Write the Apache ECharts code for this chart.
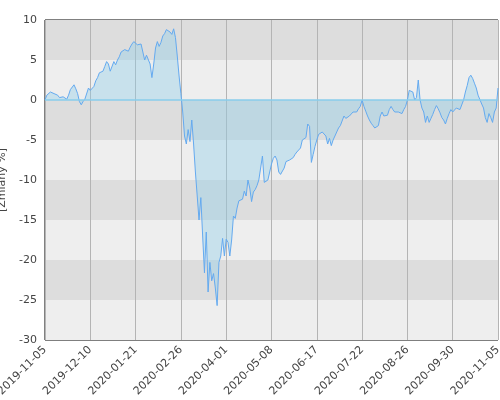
<!DOCTYPE html>
<html><head><meta charset="utf-8">
<script src="https://cdn.jsdelivr.net/npm/echarts@6/dist/echarts.min.js"></script>
<style>html,body{margin:0;padding:0;background:#fff}#c{width:500px;height:400px}</style>
</head><body><div id="c"></div>
<script>
const tickLabels = ['2019-11-05','2019-12-10','2020-01-21','2020-02-26','2020-04-01','2020-05-08','2020-06-17','2020-07-22','2020-08-26','2020-09-30','2020-11-05'];
const values = [
0,0.6,0.8,1.0,1.1,0.8,0.9,0.6,0.3,0.5,0.4,0.3,0.1,0.6,1.3,1.5,1.9,1.4,0.8,-0.2,-0.6,-0.2,0.1,0.3,1.5,
1.2,1.3,1.7,2.4,2.8,3.4,3.5,3.6,4.2,4.8,4.5,3.6,3.4,4.8,4.4,5.0,5.4,6.0,5.8,6.3,6.2,6.1,6.6,7.0,7.3,
7.2,6.9,7.1,7.0,6.8,5.0,5.6,5.7,4.5,2.8,4.5,6.5,7.3,6.7,7.2,8.0,8.3,8.8,8.8,8.5,8.2,8.9,7.8,5.5,3.0,
0.8,-1.5,-4.5,-5.5,-3.7,-5.2,-2.5,-5.5,-9,-12,-15,-12.2,-17,-21.6,-16.5,-24,-20.3,-22.6,-21.7,-23.5,-25.7,-20.3,-19.5,-17.3,-19.5,
-17.4,-17.8,-19.5,-17.5,-14.5,-14.8,-13.5,-12.6,-12.7,-12.4,-11.4,-12,-10,-11,-12.7,-11.5,-11.2,-10.7,-10,-8.5,-7,-10.3,-10.3,-10,-9,
-8,-7.3,-7,-7.5,-9,-9.3,-9.3,-8.5,-7.7,-7.6,-7.5,-7.3,-7.2,-6.8,-6.5,-6.3,-6,-5,-4.8,-4.7,-3,-3.3,-7.8,-6.8,-5.8,
-5,-4.3,-4.2,-4.0,-4.0,-4.5,-5.5,-4.8,-5.7,-5.0,-4.5,-4.0,-3.5,-3.2,-3.0,-2.0,-2.3,-2.1,-2.0,-1.8,-1.5,-1.6,-1.5,-1.1,-0.8,
0.0,-0.8,-1.4,-2.0,-2.5,-2.9,-3.2,-3.5,-3.4,-3.2,-2.0,-1.5,-2.0,-1.8,-1.9,-1.2,-0.8,-1.2,-1.5,-1.4,-1.5,-1.6,-1.7,-1.2,-0.8,
0.0,1.2,1.3,1.0,0.0,0.3,2.5,0.0,-1.0,-1.5,-2.8,-2.0,-2.8,-2.3,-1.8,-1.2,-0.7,-1.1,-1.6,-2.2,-2.5,-3.0,-2.3,-1.7,-1.2,
-1.5,-1.5,-1.0,-0.8,-1.2,-1.0,0.0,1.0,1.8,2.8,3.1,2.7,2.1,1.5,0.6,0.5,-0.5,-1.0,-2.2,-2.8,-1.7,-2.2,-2.8,-1.5,-1.0,1.5
];
const categories = values.map((v,i)=> i%25===0 ? tickLabels[i/25] : String(i));
const chart = echarts.init(document.getElementById('c'));
chart.setOption({
  animation:false,
  grid:{left:45,right:2,top:20,bottom:60,containLabel:false,outerBoundsMode:'none',show:true,borderColor:'#000',borderWidth:1,backgroundColor:'transparent'},
  xAxis:{type:'category',data:categories,boundaryGap:false,
    axisLine:{show:false},axisTick:{show:false},
    axisLabel:{interval:24,rotate:45,color:'#444',fontSize:11,fontFamily:'DejaVu Sans',margin:8},
    splitLine:{show:true,interval:24,lineStyle:{color:'#b4b4b4',width:1}}},
  yAxis:{type:'value',min:-30,max:10,interval:5,
    name:'[Zmiany %]',nameLocation:'middle',nameGap:30,nameTextStyle:{color:'#444',fontSize:11,fontFamily:'DejaVu Sans'},
    axisLine:{show:false},axisTick:{show:false},
    axisLabel:{color:'#444',fontSize:11,fontFamily:'DejaVu Sans'},
    splitLine:{show:false},
    splitArea:{show:true,areaStyle:{color:['#eeeeee','#dddddd']}}},
  series:[{type:'line',data:values,symbol:'none',
    lineStyle:{color:'#64aaf0',width:1},
    areaStyle:{color:'rgba(140,205,235,0.55)',origin:0},
    markLine:{silent:true,symbol:'none',label:{show:false},lineStyle:{color:'#88cceb',type:'solid',width:1.5},data:[{yAxis:0}]}}]
});
</script></body></html>
